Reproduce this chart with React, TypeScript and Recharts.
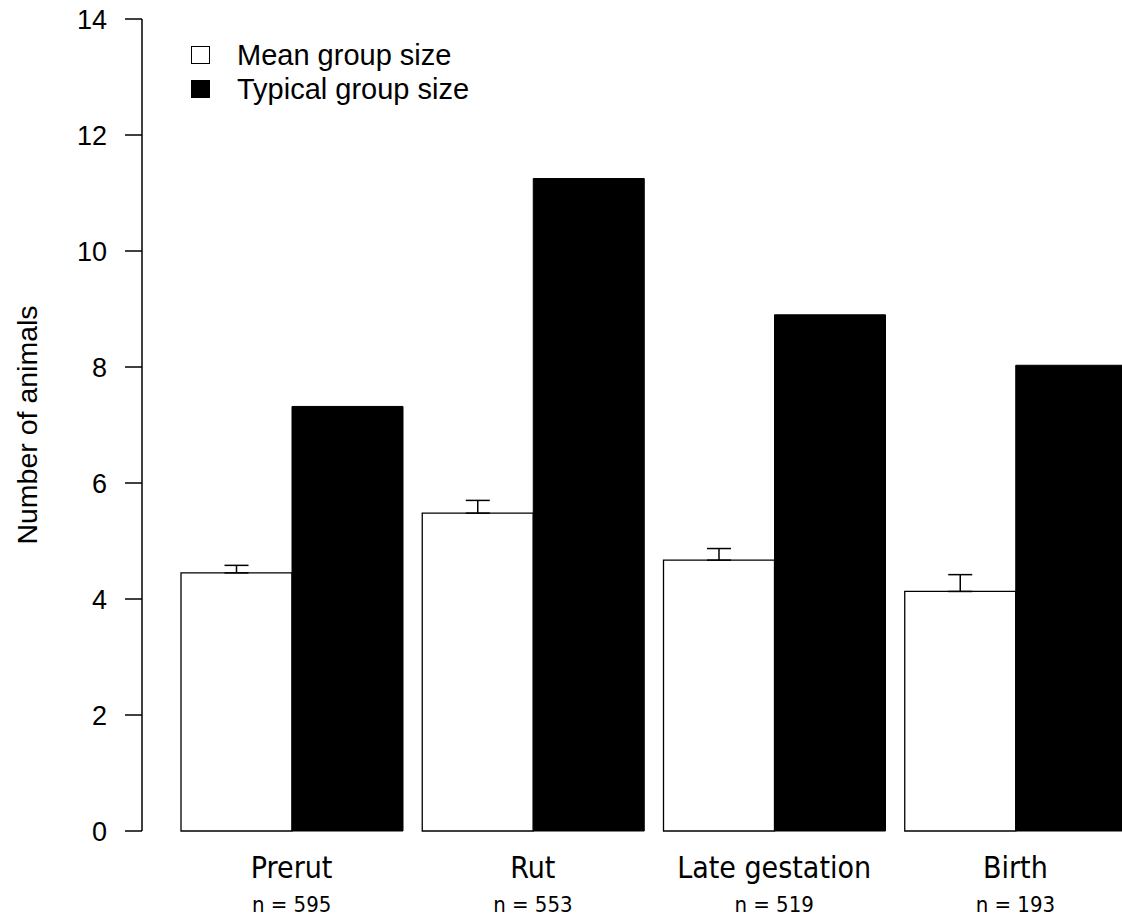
import { BarChart, Bar, XAxis, YAxis, ErrorBar } from 'recharts'

const categories = ['Prerut', 'Rut', 'Late gestation', 'Birth']
const sampleSizes = [595, 553, 519, 193]
const meanGroupSize = [4.45, 5.48, 4.67, 4.13]
const meanGroupSE = [0.13, 0.22, 0.2, 0.29]
const typicalGroupSize = [7.32, 11.25, 8.9, 8.03]
const yTicks = [0, 2, 4, 6, 8, 10, 12, 14]

const legendItems = [
  { label: 'Mean group size', fill: '#ffffff' },
  { label: 'Typical group size', fill: '#000000' },
]

const data = categories.map((c, i) => ({
  category: c,
  n: sampleSizes[i],
  mean: meanGroupSize[i],
  se: [0, meanGroupSE[i]],
  typical: typicalGroupSize[i],
}))

const sans = '"Liberation Sans", Arial, sans-serif'
const condensed = '"DejaVu Sans Condensed", "DejaVu Sans", sans-serif'

// two-line category tick: name, then sample size
function CategoryTick({ x, y, index }: any) {
  return (
    <g>
      <text x={x} y={y + 47} textAnchor="middle" fontFamily={condensed} fontSize={30} fill="#000">
        {categories[index]}
      </text>
      <text x={x} y={y + 81} textAnchor="middle" fontFamily={condensed} fontSize={22} fill="#000">
        {`n = ${sampleSizes[index]}`}
      </text>
    </g>
  )
}

export default function App() {
  return (
    <div style={{ position: 'absolute', left: 0, top: 0, width: 1122, height: 920, overflow: 'hidden', background: '#fff' }}>
      <BarChart
        width={1140}
        height={920}
        data={data}
        margin={{ top: 19, right: 4, bottom: 0, left: 0 }}
        barCategoryGap={10}
        barGap={0}
      >
        <XAxis
          dataKey="category"
          axisLine={false}
          tickLine={false}
          tickSize={0}
          tickMargin={0}
          height={89}
          padding={{ left: 29, right: 0 }}
          interval={0}
          tick={<CategoryTick />}
        />
        <YAxis
          width={142}
          domain={[0, 14]}
          ticks={yTicks}
          interval={0}
          tickSize={17}
          tickMargin={18}
          axisLine={{ stroke: '#000', strokeWidth: 1.5 }}
          tickLine={{ stroke: '#000', strokeWidth: 1.5 }}
          tick={{ fill: '#000', fontSize: 27, fontFamily: sans }}
          label={{
            value: 'Number of animals',
            angle: -90,
            position: 'insideLeft',
            offset: 27,
            style: { textAnchor: 'middle', fontSize: 28.5, fontFamily: sans, fill: '#000' },
          }}
        />
        <Bar dataKey="mean" fill="#fff" stroke="#000" strokeWidth={1.3} isAnimationActive={false}>
          <ErrorBar dataKey="se" direction="y" width={12} stroke="#000" strokeWidth={1.5} isAnimationActive={false} />
        </Bar>
        <Bar dataKey="typical" fill="#000" stroke="#000" strokeWidth={1} isAnimationActive={false} />
      </BarChart>
      <div style={{ position: 'absolute', left: 191, top: 38, fontFamily: sans, fontSize: 29, lineHeight: '34px', color: '#000' }}>
        {legendItems.map((it) => (
          <div key={it.label} style={{ display: 'flex', alignItems: 'center' }}>
            <span style={{ display: 'inline-block', width: 17, height: 16, border: '1.5px solid #000', background: it.fill, marginRight: 27 }} />
            <span>{it.label}</span>
          </div>
        ))}
      </div>
    </div>
  )
}
